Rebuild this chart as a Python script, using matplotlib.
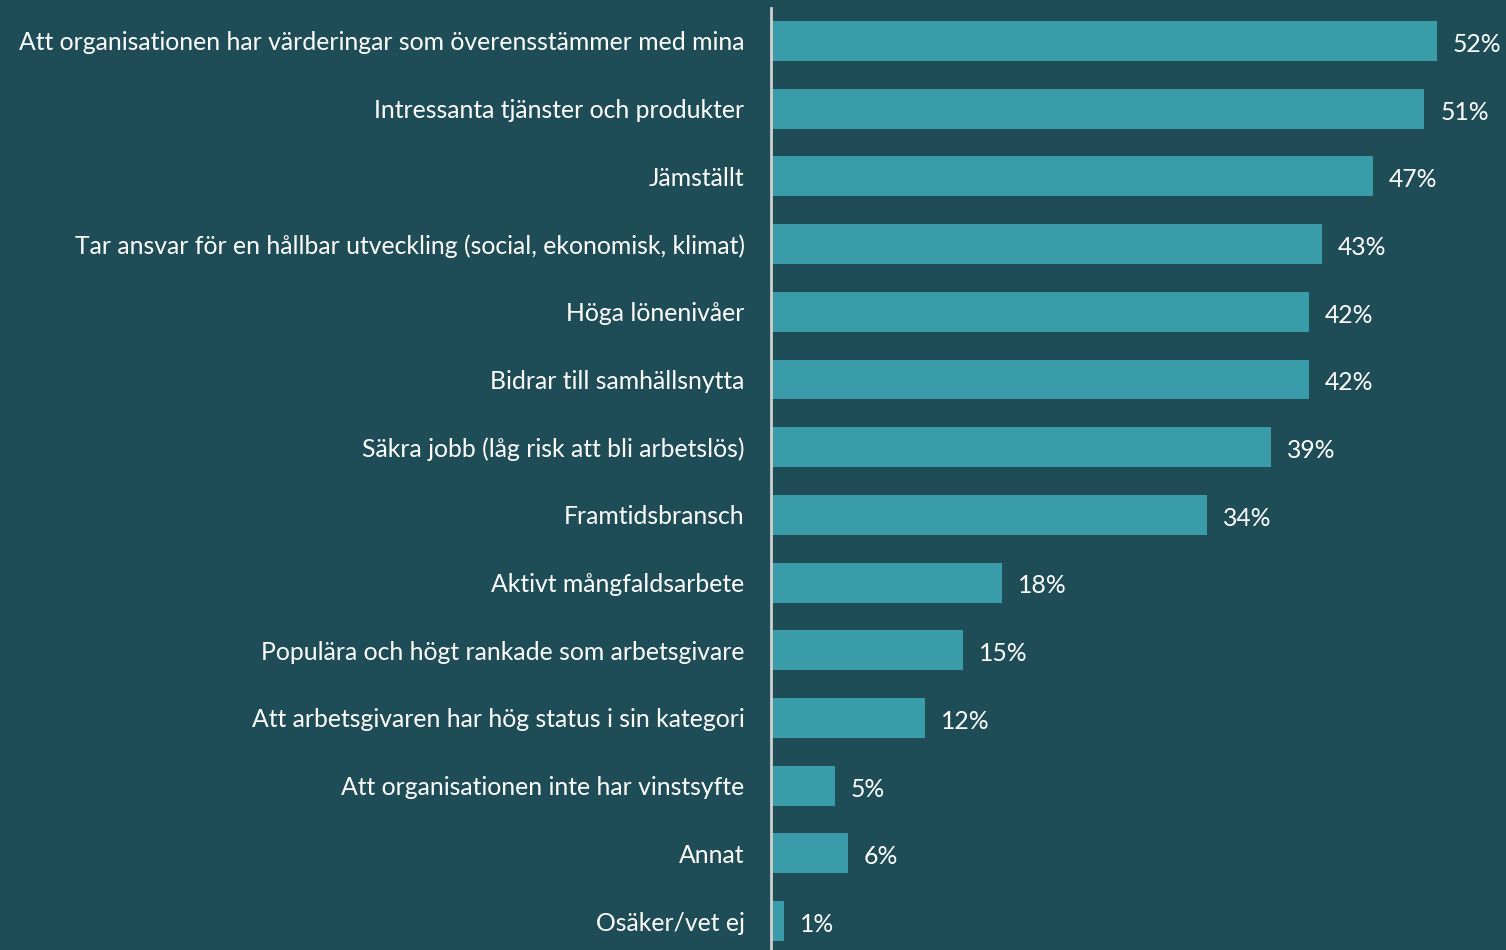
import matplotlib.pyplot as plt

categories = [
    "Att organisationen har värderingar som överensstämmer med mina",
    "Intressanta tjänster och produkter",
    "Jämställt",
    "Tar ansvar för en hållbar utveckling (social, ekonomisk, klimat)",
    "Höga lönenivåer",
    "Bidrar till samhällsnytta",
    "Säkra jobb (låg risk att bli arbetslös)",
    "Framtidsbransch",
    "Aktivt mångfaldsarbete",
    "Populära och högt rankade som arbetsgivare",
    "Att arbetsgivaren har hög status i sin kategori",
    "Att organisationen inte har vinstsyfte",
    "Annat",
    "Osäker/vet ej",
]
values = [52, 51, 47, 43, 42, 42, 39, 34, 18, 15, 12, 5, 6, 1]

bg = "#1f4d57"
bar_color = "#3a9ca9"
plt.rcParams['font.family'] = ['Lato', 'DejaVu Sans']

fig = plt.figure(figsize=(15.06, 9.5), dpi=100, facecolor=bg)
ax = fig.add_axes([771 / 1506, 0, 1 - 771 / 1506, 1 - 8 / 950])
ax.set_facecolor(bg)

ypos = list(range(len(categories)))
ax.barh(ypos, values, height=0.59, color=bar_color)
ax.set_xlim(0, 735 / 12.81)
ax.set_ylim(13.427, -0.487)

for y, v in zip(ypos, values):
    ax.annotate(f"{v}%", (v, y), xytext=(11.5, -1), textcoords="offset points",
                va="center_baseline", ha="left", color="white", fontsize=17.8)

ax.set_yticks(ypos)
ax.set_yticklabels(categories, color="white", fontsize=17.8)
for t in ax.get_yticklabels():
    t.set_va("center_baseline")
ax.tick_params(axis="y", length=0, pad=19)
ax.set_xticks([])
for s in ["top", "right", "bottom"]:
    ax.spines[s].set_visible(False)
ax.spines["left"].set_color("#d0d0d0")
ax.spines["left"].set_linewidth(2)

fig.savefig("out.png", facecolor=bg)
